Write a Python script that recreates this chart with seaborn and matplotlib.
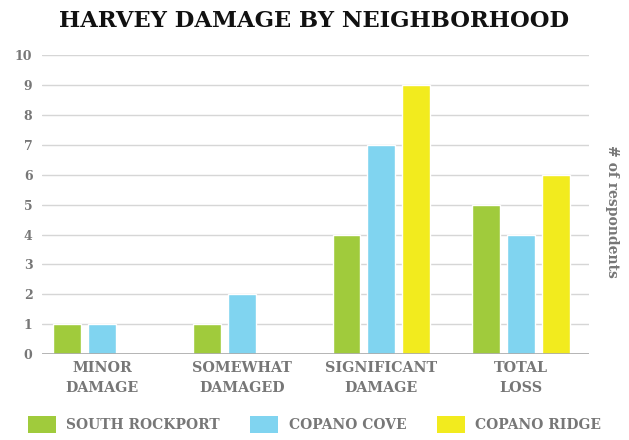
import matplotlib
matplotlib.use("Agg")
import matplotlib.pyplot as plt
import seaborn as sns
import pandas as pd
from matplotlib.patches import Patch

# data
categories = ["MINOR\nDAMAGE", "SOMEWHAT\nDAMAGED", "SIGNIFICANT\nDAMAGE", "TOTAL\nLOSS"]
neighborhoods = ["SOUTH ROCKPORT", "COPANO COVE", "COPANO RIDGE"]
south_rockport = [1, 1, 4, 5]
copano_cove = [1, 2, 7, 4]
copano_ridge = [0, 0, 9, 6]
colors = ["#A0CB3C", "#80D4F0", "#F2EB1E"]

rows = []
for name, vals in zip(neighborhoods, [south_rockport, copano_cove, copano_ridge]):
    for cat, v in zip(categories, vals):
        rows.append({"category": cat, "neighborhood": name, "count": v})
df = pd.DataFrame(rows)

sns.set_style("white")
plt.rcParams["font.family"] = ["DejaVu Serif"]

fig = plt.figure(figsize=(6.29, 4.40), dpi=100)
ax = fig.add_axes([0.067, 0.195, 0.87, 0.68])

sns.barplot(data=df, x="category", y="count", hue="neighborhood",
            palette=colors, saturation=1, width=0.75, gap=0.2, ax=ax,
            legend=False, zorder=3)

ax.set_xlim(-0.43, 3.49)
ax.set_ylim(0, 10)
ax.set_yticks(range(0, 11))
ax.grid(axis="y", color="#d6d6d6", linewidth=1, zorder=0)
ax.axhline(0, color="#aaaaaa", linewidth=1.2, zorder=4)
for s in ax.spines.values():
    s.set_visible(False)

ax.tick_params(axis="y", length=0, pad=7, labelsize=9, labelcolor="#777777")
ax.tick_params(axis="x", length=0, pad=5, labelsize=10.3, labelcolor="#777777")
for t in ax.get_yticklabels():
    t.set_fontweight("bold")
for t in ax.get_xticklabels():
    t.set_fontweight("bold")
    t.set_linespacing(1.5)

ax.set_xlabel("")
ax.set_ylabel("")
fig.text(0.973, 0.52, "# of respondents", rotation=270, ha="center", va="center",
         fontsize=10, color="#777777", fontweight="bold")

fig.text(0.5, 0.953, "HARVEY DAMAGE BY NEIGHBORHOOD", ha="center", va="center",
         fontsize=16.3, fontweight="bold", color="#111111")

handles = [Patch(facecolor=c, edgecolor="none") for c in colors]
leg = fig.legend(handles, neighborhoods, loc="lower center", ncol=3,
                 bbox_to_anchor=(0.5, -0.012), frameon=False,
                 handlelength=2.0, handleheight=1.5, columnspacing=2.2,
                 handletextpad=0.75,
                 prop={"size": 10, "weight": "bold"})
for t in leg.get_texts():
    t.set_color("#777777")

fig.savefig("out.png", dpi=100)
